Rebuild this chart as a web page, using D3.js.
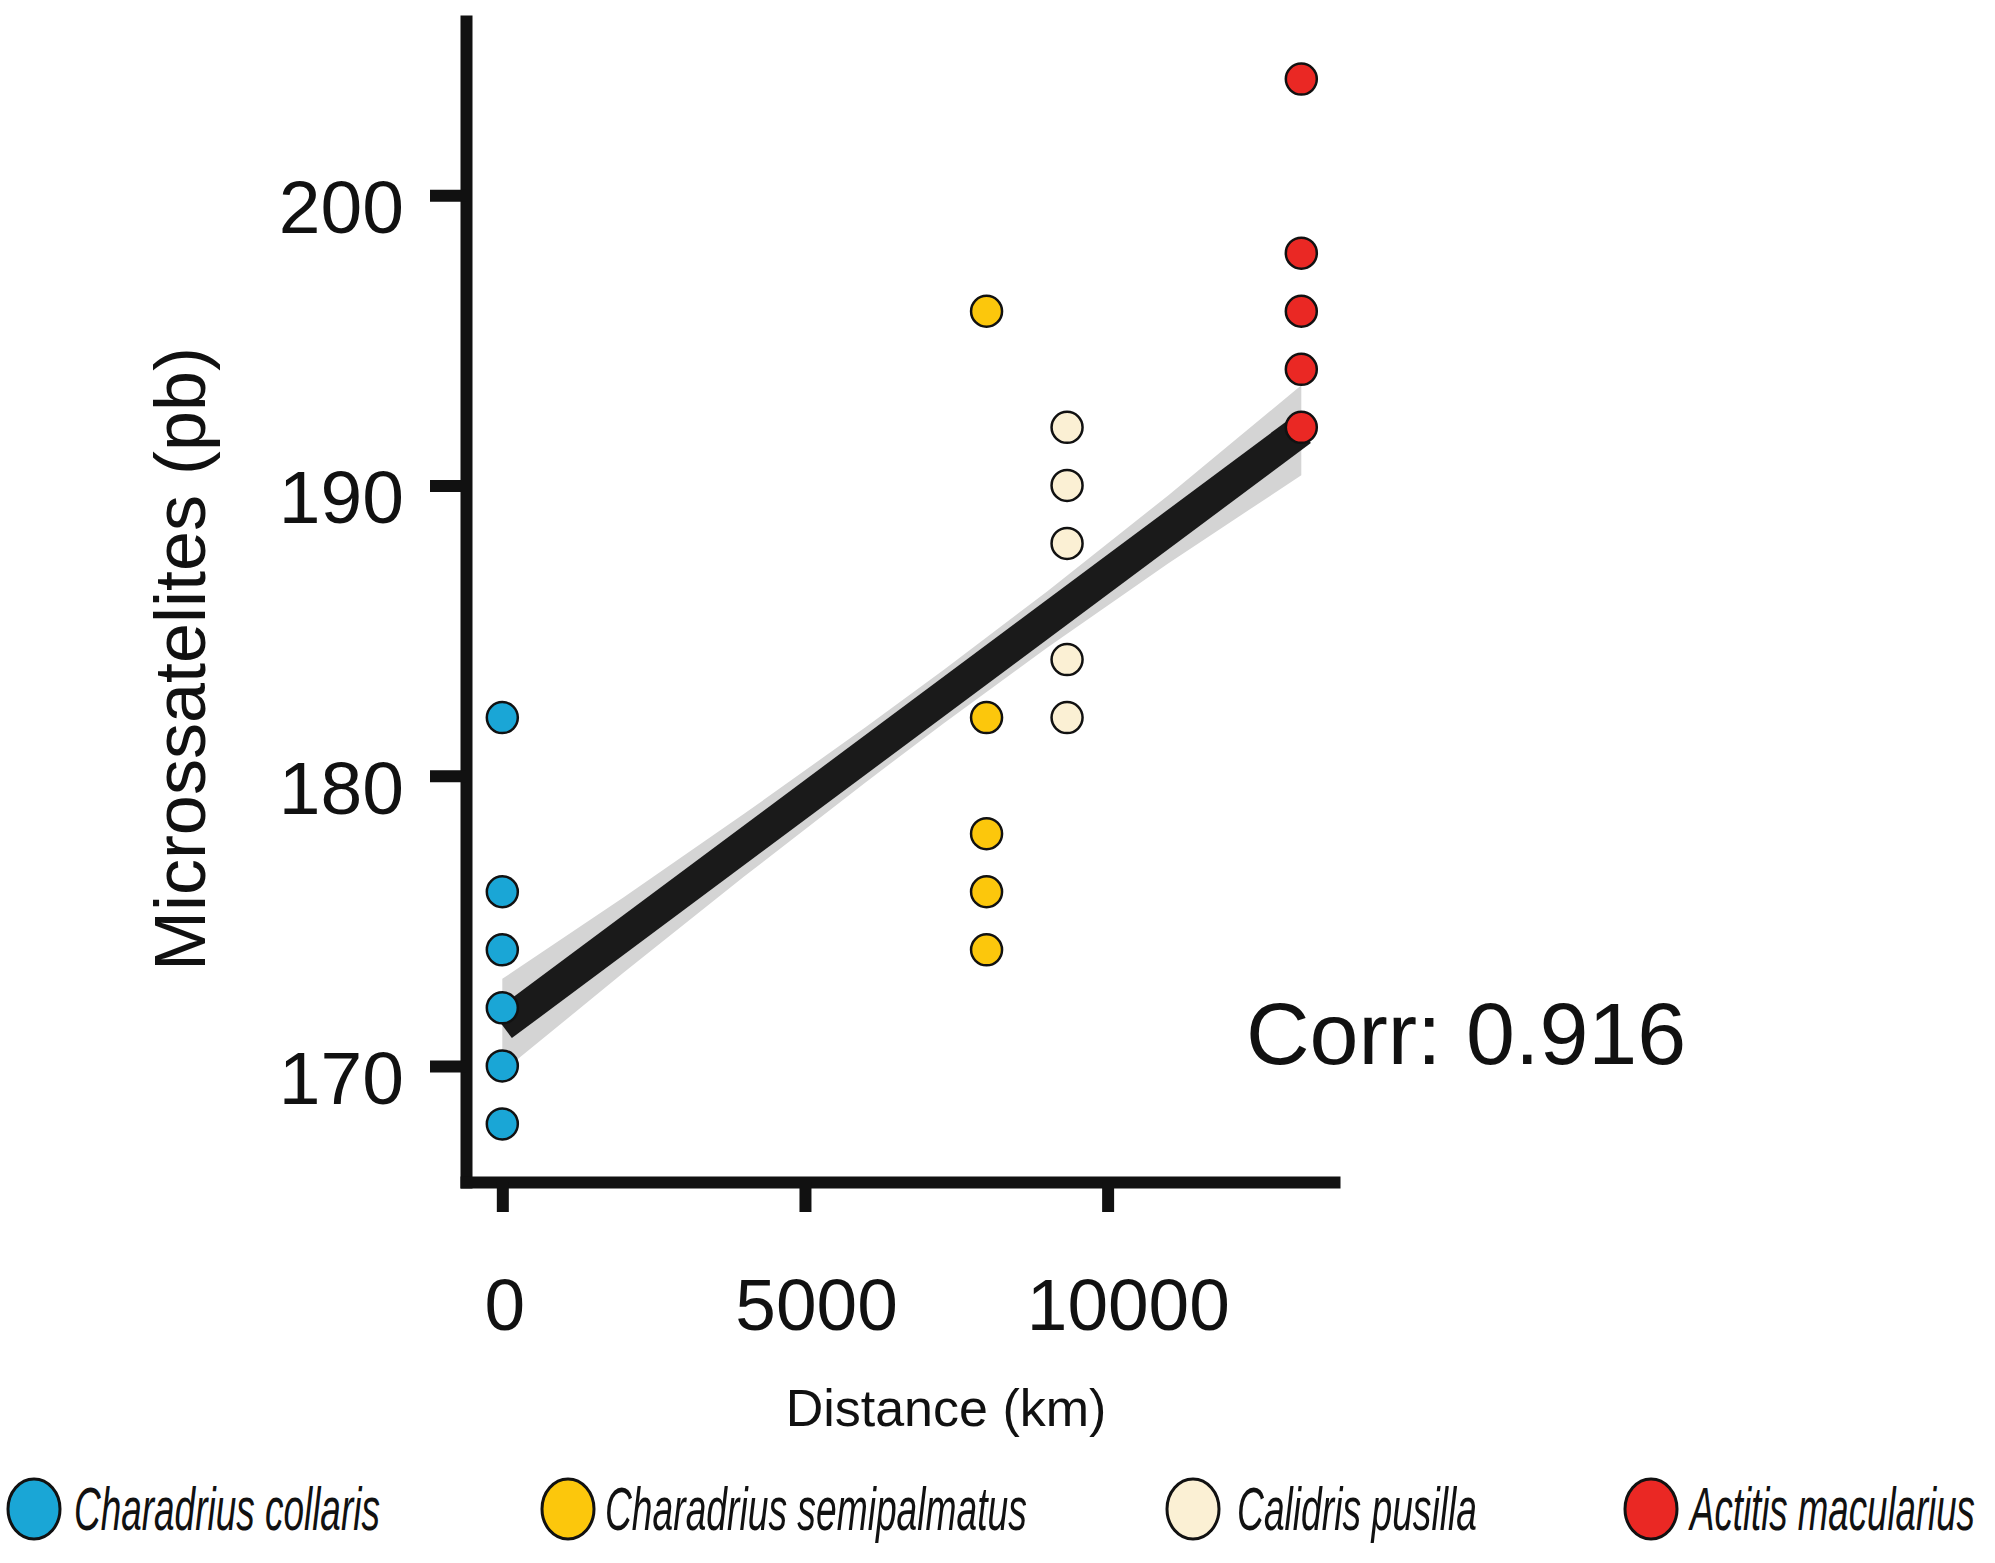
<!DOCTYPE html>
<html>
<head>
<meta charset="utf-8">
<script src="https://cdn.jsdelivr.net/npm/d3@7"></script>
<style>
  html, body { margin: 0; padding: 0; background: #ffffff; }
  svg { display: block; }
  text { font-family: "Liberation Sans", Arial, Helvetica, sans-serif; fill: #111; }
</style>
</head>
<body>
<svg id="chart" width="1995" height="1563"></svg>
<script>
// ---- data ----
const species = ["Charadrius collaris", "Charadrius semipalmatus", "Calidris pusilla", "Actitis macularius"];
const speciesColors = ["#1aa6d6", "#fcc70c", "#fbf0d4", "#ea2824"];
const speciesDistance = [0, 8000, 9330, 13200];
const valuesCollaris = [182, 176, 174, 172, 170, 168];
const valuesSemipalmatus = [196, 182, 178, 176, 174];
const valuesPusilla = [192, 190, 188, 184, 182];
const valuesMacularius = [204, 198, 196, 194, 192];
const seriesValues = [valuesCollaris, valuesSemipalmatus, valuesPusilla, valuesMacularius];

const fitX = [0, 13200];
const fitY = [171.4, 191.9];
const bandX = [0, 2000, 4000, 6000, 7300, 9000, 11000, 13200];
const bandHalf = [1.6, 1.3, 1.08, 0.95, 0.92, 0.97, 1.17, 1.55];

const xTicks = [0, 5000, 10000];
const yTicks = [170, 180, 190, 200];
const xLimits = [-600, 13740];
const yLimits = [166, 206];
const xTitle = "Distance (km)";
const yTitle = "Microssatelites (pb)";
const corrLabel = "Corr: 0.916";

// ---- layout ----
const svg = d3.select("#chart");
svg.append("rect").attr("width", 1995).attr("height", 1563).attr("fill", "#fff");

const panel = { left: 466, right: 1334, top: 21, bottom: 1182 };
const x = d3.scaleLinear().domain(xLimits).range([panel.left, panel.right]);
const y = d3.scaleLinear().domain(yLimits).range([panel.bottom, panel.top]);

// fit line (straight line through its two read endpoints)
const fitAt = v => fitY[0] + (fitY[1] - fitY[0]) * (v - fitX[0]) / (fitX[1] - fitX[0]);
const bandData = bandX.map((v, i) => ({ x: v, lo: fitAt(v) - bandHalf[i], hi: fitAt(v) + bandHalf[i] }));

svg.append("path")
  .datum(bandData)
  .attr("fill", "#d4d4d4")
  .attr("d", d3.area().x(d => x(d.x)).y0(d => y(d.lo)).y1(d => y(d.hi)));

svg.append("path")
  .datum(fitX.map((v, i) => ({ x: v, y: fitY[i] })))
  .attr("fill", "none")
  .attr("stroke", "#1a1a1a")
  .attr("stroke-width", 32)
  .attr("d", d3.line().x(d => x(d.x)).y(d => y(d.y)));

// axes
const yAxis = d3.axisLeft(y).tickValues(yTicks).tickSize(36).tickSizeOuter(0).tickPadding(26);
const xAxis = d3.axisBottom(x).tickValues(xTicks).tickFormat(d3.format("d"))
  .tickSize(30).tickSizeOuter(0).tickPadding(66);

const gy = svg.append("g").attr("transform", `translate(${panel.left},0)`).call(yAxis);
const gx = svg.append("g").attr("transform", `translate(0,${panel.bottom})`).call(xAxis);

[gx, gy].forEach(g => {
  g.select(".domain").attr("stroke", "#111").attr("stroke-width", 12).attr("stroke-linecap", "square");
  g.selectAll(".tick line").attr("stroke", "#111").attr("stroke-width", 12);
  g.selectAll(".tick text")
    .attr("fill", "#111")
    .style("font-family", '"Liberation Sans", Arial, sans-serif');
});
gy.selectAll(".tick text").style("font-size", "75px").attr("dy", "0.5em");
gx.selectAll(".tick text").style("font-size", "73px").attr("dy", "0.71em")
  .attr("dx", d => 2 + (x(d) - x(0)) * 0.03);

// points
const pts = [];
seriesValues.forEach((vals, si) => vals.forEach(v => pts.push({ s: si, x: speciesDistance[si], y: v })));
svg.append("g").selectAll("circle").data(pts).join("circle")
  .attr("cx", d => x(d.x))
  .attr("cy", d => y(d.y))
  .attr("r", 15.5)
  .attr("fill", d => speciesColors[d.s])
  .attr("stroke", "#111")
  .attr("stroke-width", 2.5);

// correlation label
svg.append("text")
  .attr("x", 1246).attr("y", 1064)
  .style("font-size", "88px")
  .text(corrLabel);

// axis titles
svg.append("text")
  .attr("x", 946).attr("y", 1426)
  .attr("text-anchor", "middle")
  .style("font-size", "52px")
  .text(xTitle);

svg.append("text")
  .attr("transform", "translate(205,659) rotate(-90)")
  .attr("text-anchor", "middle")
  .style("font-size", "72px")
  .text(yTitle);

// legend (italic labels condensed horizontally to the reference widths)
const legendCircleX = [34, 568, 1193, 1651];
const legendTextX = [74, 605, 1237, 1690];
const legendTextW = [306, 422, 240, 285];
const lg = svg.append("g");
species.forEach((name, i) => {
  lg.append("ellipse")
    .attr("cx", legendCircleX[i]).attr("cy", 1509)
    .attr("rx", 26).attr("ry", 30)
    .attr("fill", speciesColors[i])
    .attr("stroke", "#111").attr("stroke-width", 3);
  const t = lg.append("text")
    .attr("x", 0).attr("y", 0)
    .style("font-size", "62px").style("font-style", "italic")
    .text(name);
  const w = t.node().getComputedTextLength();
  t.attr("transform", `translate(${legendTextX[i]},1530) scale(${legendTextW[i] / w},1)`);
});
</script>
</body>
</html>
